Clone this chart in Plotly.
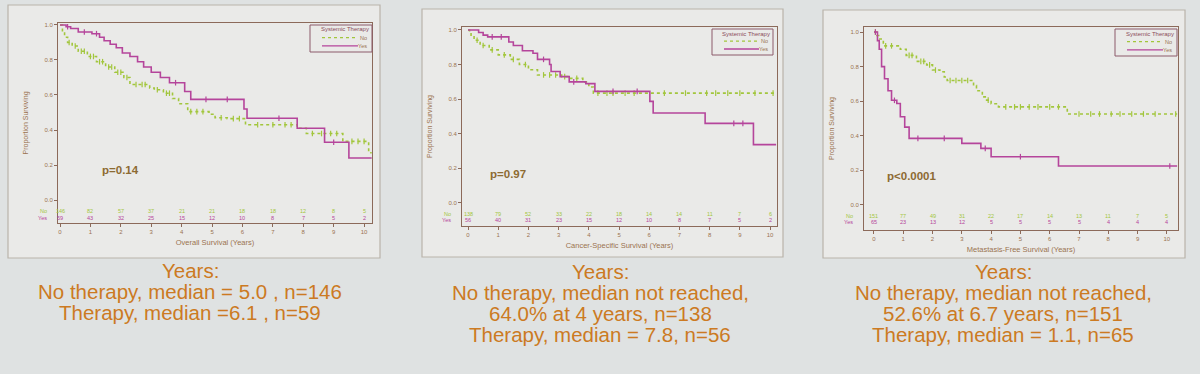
import numpy as np
import plotly.graph_objects as go

# ---------------- data ----------------
years_ticks = [0, 1, 2, 3, 4, 5, 6, 7, 8, 9, 10]

# Overall survival
os_no_t = [0, 0.08, 0.15, 0.25, 0.4, 0.6, 0.9, 1.2, 1.5, 1.8, 2.1, 2.3, 2.95, 3.1, 3.4, 3.7, 3.9, 4.2, 4.9, 5.1, 5.5, 6.1, 7.8, 8.1, 9.3, 10.15]
os_no_s = [1.0, 0.96, 0.93, 0.90, 0.88, 0.85, 0.82, 0.79, 0.76, 0.73, 0.70, 0.66, 0.64, 0.63, 0.61, 0.58, 0.55, 0.505, 0.49, 0.47, 0.465, 0.43, 0.41, 0.38, 0.335, 0.27]
os_yes_t = [0, 0.2, 0.35, 0.6, 1.05, 1.3, 1.45, 1.65, 1.85, 2.05, 2.3, 2.55, 2.75, 3.0, 3.3, 3.6, 4.1, 4.3, 6.05, 6.15, 7.8, 8.7, 9.5]
os_yes_s = [1.0, 0.99, 0.98, 0.96, 0.95, 0.93, 0.91, 0.89, 0.87, 0.84, 0.82, 0.79, 0.76, 0.73, 0.70, 0.67, 0.62, 0.575, 0.52, 0.467, 0.41, 0.33, 0.24]
os_no_cens = [0.3, 0.5, 0.7, 0.8, 1.0, 1.1, 1.3, 1.4, 1.6, 1.7, 1.9, 2.0, 2.2, 2.5, 2.7, 2.8, 3.2, 3.5, 3.6, 4.3, 4.5, 4.7, 5.3, 5.7, 5.9, 6.5, 7.0, 7.4, 7.6, 8.3, 8.6, 8.9, 9.1, 9.6, 9.8, 10.0]
os_yes_cens = [0.25, 0.8, 1.2, 3.8, 4.8, 5.5, 7.2, 9.0]
os_no_risk = [146, 82, 57, 37, 21, 21, 18, 18, 12, 8, 5]
os_yes_risk = [59, 43, 32, 25, 15, 12, 10, 8, 7, 5, 2]

# Cancer-specific survival
css_no_t = [0, 0.05, 0.1, 0.2, 0.4, 0.7, 1.0, 1.4, 1.7, 2.0, 2.3, 3.1, 3.3, 3.8, 4.0, 4.15]
css_no_s = [1.0, 0.99, 0.97, 0.94, 0.91, 0.885, 0.856, 0.83, 0.80, 0.77, 0.74, 0.73, 0.72, 0.70, 0.67, 0.635]
css_yes_t = [0, 0.35, 0.5, 0.65, 1.35, 1.5, 1.8, 2.15, 2.3, 2.7, 2.75, 3.05, 3.35, 3.9, 4.2, 6.02, 6.13, 7.85, 9.45]
css_yes_s = [1.0, 0.985, 0.97, 0.96, 0.93, 0.91, 0.88, 0.865, 0.83, 0.80, 0.76, 0.73, 0.70, 0.69, 0.645, 0.587, 0.52, 0.46, 0.337]
css_no_cens = [0.3, 0.5, 0.8, 1.2, 1.5, 1.9, 2.5, 2.7, 2.9, 3.2, 3.6, 4.3, 4.6, 4.8, 5.2, 5.5, 6.5, 7.2, 7.9, 8.2, 8.6, 9.0, 9.5, 10.1]
css_yes_cens = [0.8, 1.1, 2.5, 3.5, 4.8, 5.6, 8.8, 9.1]
css_no_risk = [138, 79, 52, 33, 22, 18, 14, 14, 11, 7, 6]
css_yes_risk = [56, 40, 31, 23, 15, 12, 10, 8, 7, 5, 2]

# Metastasis-free survival
mfs_no_t = [0, 0.1, 0.2, 0.32, 0.9, 1.1, 1.45, 1.8, 2.0, 2.25, 2.4, 2.5, 3.4, 3.5, 3.7, 3.8, 4.0, 4.25, 6.6]
mfs_no_s = [1.0, 0.98, 0.96, 0.92, 0.90, 0.865, 0.83, 0.81, 0.78, 0.77, 0.74, 0.72, 0.69, 0.66, 0.625, 0.606, 0.585, 0.567, 0.526]
mfs_yes_t = [0, 0.12, 0.18, 0.26, 0.36, 0.48, 0.6, 0.78, 0.9, 1.05, 1.2, 3.0, 3.65, 4.0, 6.3]
mfs_yes_s = [1.0, 0.95, 0.90, 0.80, 0.73, 0.66, 0.605, 0.587, 0.51, 0.45, 0.385, 0.356, 0.327, 0.279, 0.225]
mfs_no_cens = [0.05, 0.4, 0.6, 1.2, 1.3, 1.6, 1.7, 1.9, 2.1, 2.6, 2.8, 3.0, 3.2, 3.9, 4.5, 4.8, 5.0, 5.3, 5.6, 6.0, 6.3, 7.0, 7.4, 7.7, 8.1, 8.4, 8.8, 9.2, 9.6, 10.3]
mfs_yes_cens = [0.05, 0.7, 1.5, 2.4, 3.8, 5.0, 10.1]
mfs_no_risk = [151, 77, 49, 31, 22, 17, 14, 13, 11, 7, 5]
mfs_yes_risk = [65, 23, 13, 12, 5, 5, 5, 5, 4, 4, 4]

x_titles = ["Overall Survival (Years)", "Cancer-Specific Survival (Years)", "Metastasis-Free Survival (Years)"]
p_texts = ["p=0.14", "p=0.97", "p<0.0001"]
legend_title = "Systemic Therapy"
group_names = ["No", "Yes"]
summaries = [
    ["Years:", "No therapy, median = 5.0 , n=146", "Therapy, median =6.1 , n=59"],
    ["Years:", "No therapy, median not reached,", "64.0% at 4 years, n=138", "Therapy, median = 7.8, n=56"],
    ["Years:", "No therapy, median not reached,", "52.6% at 6.7 years, n=151", "Therapy, median = 1.1, n=65"],
]

# ---------------- styling / layout ----------------
W, H = 1200, 374
GREEN = "#a2c63c"
MAGENTA = "#b5459b"
BROWN = "#9a7350"
ORANGE = "#cc7a22"
PANEL = "#eaeae8"
BG = "#dfe2e2"
FONT = "Liberation Sans"

panels = [
    dict(no=(os_no_t, os_no_s, os_no_cens, os_no_risk), yes=(os_yes_t, os_yes_s, os_yes_cens, os_yes_risk),
         end_no=10.25, end_yes=10.25,
         box=(8, 5, 380, 258), plot=(58, 23, 372, 223), xr=(-0.066, 10.26), yr=(-0.131, 1.011),
         p_x=1.3, legend=(310, 25, 372, 52), text_cx=190, text_y=[270, 291, 312]),
    dict(no=(css_no_t, css_no_s, css_no_cens, css_no_risk), yes=(css_yes_t, css_yes_s, css_yes_cens, css_yes_risk),
         end_no=10.2, end_yes=10.2,
         box=(422, 9, 783, 257), plot=(462, 27, 777, 226), xr=(-0.2, 10.23), yr=(-0.133, 1.017),
         p_x=0.66, legend=(712, 29, 773, 55), text_cx=600, text_y=[271, 292, 313, 334]),
    dict(no=(mfs_no_t, mfs_no_s, mfs_no_cens, mfs_no_risk), yes=(mfs_yes_t, mfs_yes_s, mfs_yes_cens, mfs_yes_risk),
         end_no=10.35, end_yes=10.35,
         box=(823, 10, 1185, 258), plot=(864, 27, 1178, 230), xr=(-0.34, 10.38), yr=(-0.145, 1.029),
         p_x=0.37, legend=(1115, 29, 1177, 56), text_cx=1003, text_y=[271, 292, 313, 334]),
]


def step_value(t, s, x):
    idx = np.searchsorted(np.asarray(t), np.asarray(x), side="right") - 1
    return np.asarray(s)[idx]


def px(x):
    return x / W


def py(y):
    return 1 - y / H


fig = go.Figure()
shapes = []
annotations = []
layout_axes = {}

for i, pnl in enumerate(panels):
    n = i + 1
    xa = "x" if n == 1 else f"x{n}"
    ya = "y" if n == 1 else f"y{n}"

    # outer panel box
    bx0, by0, bx1, by1 = pnl["box"]
    shapes.append(dict(type="rect", xref="paper", yref="paper", x0=px(bx0), x1=px(bx1),
                       y0=py(by1), y1=py(by0), fillcolor=PANEL,
                       line=dict(color="#b9b3aa", width=1.2), layer="below"))

    for key, name, color, dash, end in [("no", group_names[0], GREEN, "dot", pnl["end_no"]),
                                        ("yes", group_names[1], MAGENTA, "solid", pnl["end_yes"])]:
        t, s, cens, risk = pnl[key]
        tx = list(t) + [end]
        sy = list(s) + [s[-1]]
        fig.add_trace(go.Scatter(x=tx, y=sy, mode="lines", line=dict(color=color, width=1.6, dash=dash, shape="hv"),
                                 name=name, xaxis=xa, yaxis=ya, showlegend=False))
        cy = step_value(t, s, cens)
        fig.add_trace(go.Scatter(x=cens, y=cy, mode="markers",
                                 marker=dict(symbol="line-ns", size=4, line=dict(color=color, width=1.2)),
                                 xaxis=xa, yaxis=ya, showlegend=False, hoverinfo="skip"))
        # number at risk
        row_y = -0.063 if key == "no" else -0.1
        for yr_, r in zip(years_ticks, risk):
            annotations.append(dict(x=yr_, y=row_y, xref=xa, yref=ya, text=str(r), showarrow=False,
                                    font=dict(size=5.5, color=color, family=FONT)))
        annotations.append(dict(x=-0.03, y=row_y, xref=f"{xa} domain", yref=ya, text=name, showarrow=False,
                                xanchor="right", font=dict(size=5.5, color=color, family=FONT)))

    x0, y0, x1, y1 = pnl["plot"]
    axis_common = dict(showgrid=False, zeroline=False, showline=True, linecolor="#8c6a5a", linewidth=1,
                       mirror=True, ticks="outside", ticklen=3, tickcolor="#8c6a5a",
                       tickfont=dict(size=6, color=BROWN, family=FONT))
    layout_axes["xaxis" if n == 1 else f"xaxis{n}"] = dict(
        axis_common, domain=[px(x0), px(x1)], range=list(pnl["xr"]), anchor=ya,
        tickvals=years_ticks, ticktext=[str(v) for v in years_ticks],
        title=dict(text=x_titles[i], font=dict(size=7.5, color=BROWN, family=FONT), standoff=5))
    layout_axes["yaxis" if n == 1 else f"yaxis{n}"] = dict(
        axis_common, domain=[py(y1), py(y0)], range=list(pnl["yr"]), anchor=xa,
        tickvals=[0, 0.2, 0.4, 0.6, 0.8, 1.0], ticktext=["0.0", "0.2", "0.4", "0.6", "0.8", "1.0"],
        title=dict(text="Proportion Surviving", font=dict(size=7, color=BROWN, family=FONT), standoff=15))

    # p-value
    annotations.append(dict(x=pnl["p_x"], y=0.17, xref=xa, yref=ya, text=f"<b>{p_texts[i]}</b>", showarrow=False,
                            xanchor="left", font=dict(size=11.5, color="#8d6b32", family=FONT)))

    # legend box (drawn manually, compact)
    lx0, ly0, lx1, ly1 = pnl["legend"]
    shapes.append(dict(type="rect", xref="paper", yref="paper", x0=px(lx0), x1=px(lx1), y0=py(ly1), y1=py(ly0),
                       fillcolor=PANEL, line=dict(color="#8c5a6a", width=1)))
    annotations.append(dict(x=px(lx1 - 1), y=py(ly0 + 4.5), xref="paper", yref="paper", text=legend_title,
                            showarrow=False, xanchor="right", yanchor="middle",
                            font=dict(size=6, color="#8a4a5a", family=FONT)))
    hgt = ly1 - ly0
    for j, (gname, color, dash) in enumerate([(group_names[0], GREEN, "dot"), (group_names[1], MAGENTA, "solid")]):
        yy = ly0 + hgt * (0.47 + 0.3 * j)
        shapes.append(dict(type="line", xref="paper", yref="paper", x0=px(lx0 + 12), x1=px(lx1 - 14),
                           y0=py(yy), y1=py(yy), line=dict(color=color, width=1.3, dash=dash)))
        annotations.append(dict(x=px(lx1 - 3), y=py(yy), xref="paper", yref="paper", text=gname,
                                showarrow=False, xanchor="right", yanchor="middle",
                                font=dict(size=5.5, color=BROWN, family=FONT)))

    # summary text under chart
    for line, ty in zip(summaries[i], pnl["text_y"]):
        annotations.append(dict(x=px(pnl["text_cx"]), y=py(ty), xref="paper", yref="paper", text=line,
                                showarrow=False, xanchor="center", yanchor="middle",
                                font=dict(size=20.5, color=ORANGE, family=FONT)))

fig.update_layout(
    width=W, height=H, margin=dict(l=0, r=0, t=0, b=0),
    paper_bgcolor=BG, plot_bgcolor=PANEL,
    font=dict(family=FONT), showlegend=False,
    shapes=shapes, annotations=annotations,
    **layout_axes,
)

fig.write_html("out.html")
